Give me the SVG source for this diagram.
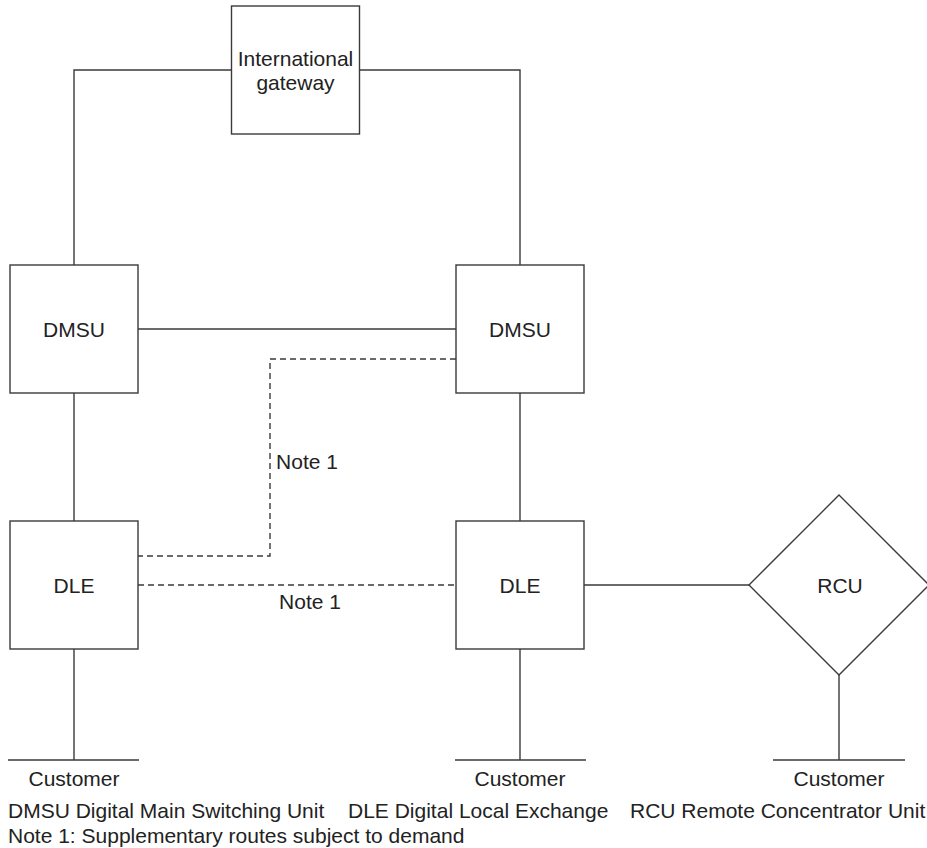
<svg xmlns="http://www.w3.org/2000/svg" width="927" height="848" viewBox="0 0 927 848">
  <style>
    .box { fill: #ffffff; stroke: #3a3a3a; stroke-width: 1.4; }
    .link { fill: none; stroke: #3a3a3a; stroke-width: 1.4; }
    .dash { fill: none; stroke: #3a3a3a; stroke-width: 1.4; stroke-dasharray: 6 4; }
    text { font-family: "Liberation Sans", Arial, sans-serif; font-size: 21px; fill: #222222; }
    .c { text-anchor: middle; }
  </style>
  <rect width="927" height="848" fill="#ffffff"/>

  <!-- connectors -->
  <g id="connectors">
    <polyline class="link" points="231.5,70 74,70 74,265"/>
    <polyline class="link" points="359.5,70 520,70 520,265"/>
    <line class="link" x1="138" y1="329" x2="456" y2="329"/>
    <line class="link" x1="74" y1="393" x2="74" y2="521"/>
    <line class="link" x1="520" y1="393" x2="520" y2="521"/>
    <polyline class="dash" points="456,359 270,359 270,556 138,556"/>
    <line class="dash" x1="138" y1="585" x2="456" y2="585"/>
    <line class="link" x1="584" y1="585" x2="749" y2="585"/>
    <line class="link" x1="74" y1="649" x2="74" y2="760"/>
    <line class="link" x1="520" y1="649" x2="520" y2="760"/>
    <line class="link" x1="839" y1="675" x2="839" y2="760"/>
    <line class="link" x1="8" y1="760" x2="139" y2="760"/>
    <line class="link" x1="455" y1="760" x2="586" y2="760"/>
    <line class="link" x1="773" y1="760" x2="905" y2="760"/>
    <text class="c" x="307" y="469">Note 1</text>
    <text class="c" x="310" y="609">Note 1</text>
  </g>

  <g id="gateway">
    <rect class="box" x="231.5" y="6" width="128" height="128"/>
    <text class="c" x="295.5" y="66">International</text>
    <text class="c" x="295.5" y="90">gateway</text>
  </g>

  <g id="dmsu-left">
    <rect class="box" x="10" y="265" width="128" height="128"/>
    <text class="c" x="74" y="337">DMSU</text>
  </g>

  <g id="dmsu-right">
    <rect class="box" x="456" y="265" width="128" height="128"/>
    <text class="c" x="520" y="337">DMSU</text>
  </g>

  <g id="dle-left">
    <rect class="box" x="10" y="521" width="128" height="128"/>
    <text class="c" x="74" y="593">DLE</text>
  </g>

  <g id="dle-right">
    <rect class="box" x="456" y="521" width="128" height="128"/>
    <text class="c" x="520" y="593">DLE</text>
  </g>

  <g id="rcu">
    <polygon class="box" points="839,495 929,585 839,675 749,585"/>
    <text class="c" x="840" y="593">RCU</text>
  </g>

  <g id="customers">
    <text class="c" x="74" y="786">Customer</text>
    <text class="c" x="520" y="786">Customer</text>
    <text class="c" x="839" y="786">Customer</text>
  </g>

  <g id="legend">
    <text x="8" y="818">DMSU Digital Main Switching Unit</text>
    <text x="348" y="818">DLE Digital Local Exchange</text>
    <text x="630" y="818">RCU Remote Concentrator Unit</text>
    <text x="8" y="843">Note 1: Supplementary routes subject to demand</text>
  </g>
</svg>
